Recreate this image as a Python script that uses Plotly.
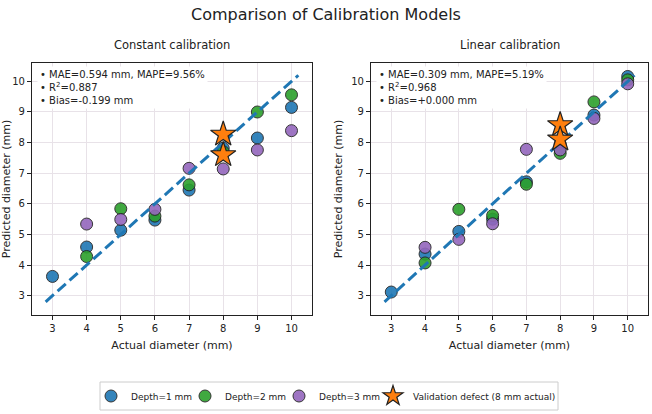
import plotly.graph_objects as go

# ---------------- data ----------------
actual_all = [3, 4, 5, 6, 7, 8, 9, 10]
actual_no3 = [4, 5, 6, 7, 8, 9, 10]

const_d1 = [3.63, 4.59, 5.14, 5.47, 6.45, 7.82, 8.15, 9.15]
const_d2 = [4.28, 5.84, 5.60, 6.62, 7.70, 9.00, 9.56]
const_d3 = [5.34, 5.49, 5.82, 7.16, 7.14, 7.76, 8.39]
const_val_x = [8, 8]
const_val_y = [8.27, 7.60]

lin_d1 = [3.12, 4.36, 5.10, 5.50, 6.72, 7.95, 8.90, 10.16]
lin_d2 = [4.07, 5.82, 5.62, 6.64, 7.65, 9.33, 10.05]
lin_d3 = [4.58, 4.84, 5.35, 7.78, 7.76, 8.79, 9.92]
lin_val_x = [8, 8]
lin_val_y = [8.58, 8.11]

ident = [2.8, 10.2]

stats_const = ["MAE=0.594 mm, MAPE=9.56%", "R<sup>2</sup>=0.887", "Bias=-0.199 mm"]
stats_lin = ["MAE=0.309 mm, MAPE=5.19%", "R<sup>2</sup>=0.968", "Bias=+0.000 mm"]

series_names = ["Depth=1 mm", "Depth=2 mm", "Depth=3 mm"]
colors = ["#1f77b4", "#2ca02c", "#9467bd"]
star_color = "#ff7f0e"
val_name = "Validation defect (8 mm actual)"

FONT = "DejaVu Sans"
W, H = 652, 414

fig = go.Figure()

legend_ids = ["legend", "legend2", "legend3"]

panels = [
    dict(xa="x", ya="y", d=[const_d1, const_d2, const_d3], vx=const_val_x, vy=const_val_y, show=True),
    dict(xa="x2", ya="y2", d=[lin_d1, lin_d2, lin_d3], vx=lin_val_x, vy=lin_val_y, show=False),
]

for p in panels:
    xs = [actual_all, actual_no3, actual_no3]
    for i in range(3):
        fig.add_trace(go.Scatter(
            x=xs[i], y=p["d"][i], mode="markers", name=series_names[i],
            xaxis=p["xa"], yaxis=p["ya"], showlegend=p["show"], legend=legend_ids[i],
            marker=dict(color=colors[i], size=12, opacity=0.9,
                        line=dict(color="#222222", width=1)),
        ))
    fig.add_trace(go.Scatter(
        x=ident, y=ident, mode="lines", showlegend=False,
        xaxis=p["xa"], yaxis=p["ya"],
        line=dict(color="#1f77b4", width=3, dash="11px,5px"),
    ))
    fig.add_trace(go.Scatter(
        x=p["vx"], y=p["vy"], mode="markers", name=val_name,
        xaxis=p["xa"], yaxis=p["ya"], showlegend=False,
        marker=dict(symbol="star", color=star_color, size=19,
                    line=dict(color="#222222", width=1.2)),
    ))

# legend-only entry for the validation star (smaller symbol, as in the reference legend)
fig.add_trace(go.Scatter(
    x=[None], y=[None], mode="markers", name=val_name, legend="legend4",
    marker=dict(symbol="star", color=star_color, size=15,
                line=dict(color="#222222", width=1.2)),
))

# layout geometry (paper coords, margins 0)
left_dom = [32 / W, 312 / W]
right_dom = [371 / W, 648 / W]
y_dom = [1 - 315 / H, 1 - 63 / H]

axis_common = dict(
    range=[2.4, 10.6], tickvals=actual_all, showgrid=True,
    gridcolor="#e8e2e8", gridwidth=0.8, showline=True, linecolor="#222222",
    linewidth=1.2, mirror=True, ticks="outside", ticklen=4, tickcolor="#222222",
    tickfont=dict(family=FONT, size=10, color="#222222"), zeroline=False,
    automargin=False,
)
yaxis_common = dict(axis_common)
yaxis_common["range"] = [2.37, 10.6]
yaxis_common["tickvals"] = [3, 4, 5, 6, 7, 8, 9, 10]

xt = dict(text="Actual diameter (mm)", font=dict(family=FONT, size=11, color="#222222"), standoff=8)
yt = dict(text="Predicted diameter (mm)", font=dict(family=FONT, size=11, color="#222222"), standoff=6)

legend_common = dict(
    orientation="h", xanchor="left", y=1 - 396 / H, yanchor="middle",
    borderwidth=0, bgcolor="rgba(0,0,0,0)",
    font=dict(family=FONT, size=9, color="#222222"),
    itemsizing="trace", itemwidth=30,
)

fig.update_layout(
    width=W, height=H,
    margin=dict(l=0, r=0, t=0, b=0),
    paper_bgcolor="white", plot_bgcolor="white",
    font=dict(family=FONT, color="#222222"),
    xaxis=dict(axis_common, domain=left_dom, anchor="y", title=xt),
    yaxis=dict(yaxis_common, domain=y_dom, anchor="x", title=yt),
    xaxis2=dict(axis_common, domain=right_dom, anchor="y2", title=xt),
    yaxis2=dict(yaxis_common, domain=y_dom, anchor="x2", title=yt),
    legend=dict(legend_common, x=91 / W),
    legend2=dict(legend_common, x=185 / W),
    legend3=dict(legend_common, x=279 / W),
    legend4=dict(legend_common, x=373 / W),
    showlegend=True,
)

# legend frame
fig.add_shape(type="rect", xref="paper", yref="paper",
              x0=100 / W, x1=558 / W, y0=1 - 410 / H, y1=1 - 382 / H,
              line=dict(color="#cccccc", width=1), fillcolor="rgba(0,0,0,0)", layer="below")


def stats_text(lines):
    return "<br>".join("\u2022 " + s for s in lines)


fig.add_annotation(text="Comparison of Calibration Models", xref="paper", yref="paper",
                   x=0.5, y=1 - 14 / H, showarrow=False, xanchor="center", yanchor="middle",
                   font=dict(family=FONT, size=16, color="#222222"))
fig.add_annotation(text="Constant calibration", xref="paper", yref="paper",
                   x=sum(left_dom) / 2, y=1 - 45 / H, showarrow=False, xanchor="center",
                   yanchor="middle", font=dict(family=FONT, size=11.5, color="#222222"))
fig.add_annotation(text="Linear calibration", xref="paper", yref="paper",
                   x=sum(right_dom) / 2, y=1 - 45 / H, showarrow=False, xanchor="center",
                   yanchor="middle", font=dict(family=FONT, size=11.5, color="#222222"))
fig.add_annotation(text=stats_text(stats_const), xref="paper", yref="paper",
                   x=37 / W, y=1 - 66 / H, xanchor="left", yanchor="top", align="left",
                   showarrow=False, bgcolor="white", borderpad=2,
                   font=dict(family=FONT, size=10, color="#222222"))
fig.add_annotation(text=stats_text(stats_lin), xref="paper", yref="paper",
                   x=376 / W, y=1 - 66 / H, xanchor="left", yanchor="top", align="left",
                   showarrow=False, bgcolor="white", borderpad=2,
                   font=dict(family=FONT, size=10, color="#222222"))

fig.write_html("out.html", config={"displayModeBar": False},
               post_script="document.body.style.margin='0';")
